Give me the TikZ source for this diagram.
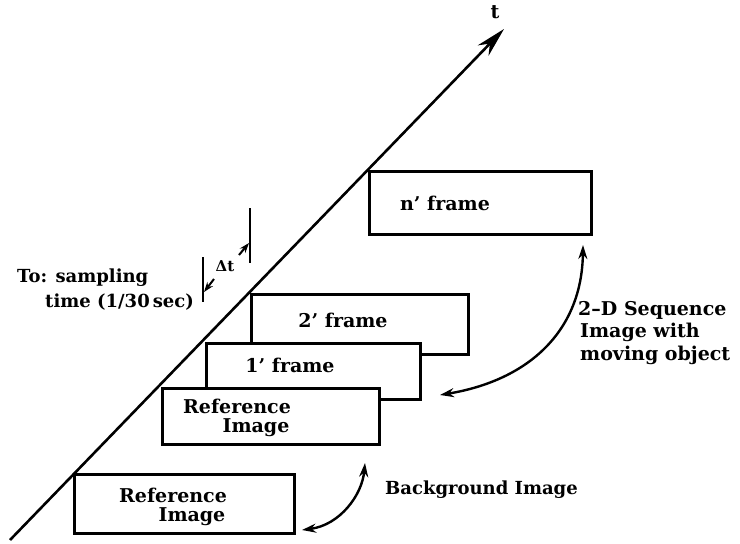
\documentclass[tikz,border=0pt]{standalone}
\usepackage{fontspec}
\setmainfont{DejaVu Serif}
\usetikzlibrary{arrows.meta}
\begin{document}
\begin{tikzpicture}[x=1pt,y=-1pt,
  framebox/.style={draw, line width=2.8pt, fill=white, anchor=north west, inner sep=0pt},
  lbl/.style={font=\fontsize{19}{22}\selectfont\bfseries, inner sep=0pt},
  lblleft/.style={lbl, anchor=west},
  smalllbl/.style={lblleft, font=\fontsize{18}{21}\selectfont\bfseries},
  axisline/.style={line width=2.6pt, -{Stealth[length=30pt,width=15pt]}},
  curvedarrow/.style={line width=2.4pt, {Stealth[length=14pt,width=9pt]}-{Stealth[length=14pt,width=9pt]}},
  tickline/.style={line width=2.4pt},
  dtarrow/.style={line width=2pt, -{Stealth[length=10pt,width=7pt]}}
]
\useasboundingbox (0,0) rectangle (740,544);

% time axis
\coordinate (t0) at (10,540);
\coordinate (t1) at (504,29);
\draw[axisline] (t0) -- (t1);
\node[lbl] (tlab) at (495,12) {t};

% image frames, back to front
\node[framebox, minimum width=222pt, minimum height=63pt] (fn) at (368,170) {};
\node[framebox, minimum width=217pt, minimum height=60pt] (f2) at (250,293) {};
\node[framebox, minimum width=214pt, minimum height=56pt] (f1) at (205,342) {};
\node[framebox, minimum width=217pt, minimum height=56pt] (ref) at (161,387) {};
\node[framebox, minimum width=220pt, minimum height=59pt] (bg) at (73,473) {};

\node[lbl] (fnlab) at (445,203) {n’ frame};
\node[lbl] (f2lab) at (343,320) {2’ frame};
\node[lbl] (f1lab) at (290,365) {1’ frame};
\node[lbl] (reflab1) at (237,406) {Reference};
\node[lbl] (reflab2) at (256,428) {Image};
\node[lbl] (bglab1) at (173,495) {Reference};
\node[lbl] (bglab2) at (192,517) {Image};

% sampling interval
\coordinate (k1a) at (203,257);
\coordinate (k1b) at (203,302);
\coordinate (k2a) at (250,208);
\coordinate (k2b) at (250,263);
\draw[tickline] (k1a) -- (k1b);
\draw[tickline] (k2a) -- (k2b);
\node[lbl, font=\fontsize{15}{18}\selectfont\bfseries] (dt) at (225,266) {Δt};
\coordinate (d1) at (214,279);
\coordinate (d1e) at (204,292);
\coordinate (d2) at (239,255);
\coordinate (d2e) at (249,243);
\draw[dtarrow] (d1) -- (d1e);
\draw[dtarrow] (d2) -- (d2e);

\node[smalllbl] (samp1) at (17,278) {To: sampling};
\node[smalllbl] (samp2) at (45,302) {time (1/30\,sec)};

% sequence and background annotations
\coordinate (s1) at (440,395);
\coordinate (s2) at (583,245);
\draw[curvedarrow] (s1) .. controls (530,380) and (582,330) .. (s2);
\node[lblleft] (seq1) at (578,310) {2–D Sequence};
\node[lblleft] (seq2) at (580,332) {Image with};
\node[lblleft] (seq3) at (580,355) {moving object};

\coordinate (b1) at (302,530);
\coordinate (b2) at (365,463);
\draw[curvedarrow] (b1) .. controls (340,525) and (362,495) .. (b2);
\node[smalllbl] (bgtext) at (385,490) {Background Image};
\end{tikzpicture}
\end{document}
